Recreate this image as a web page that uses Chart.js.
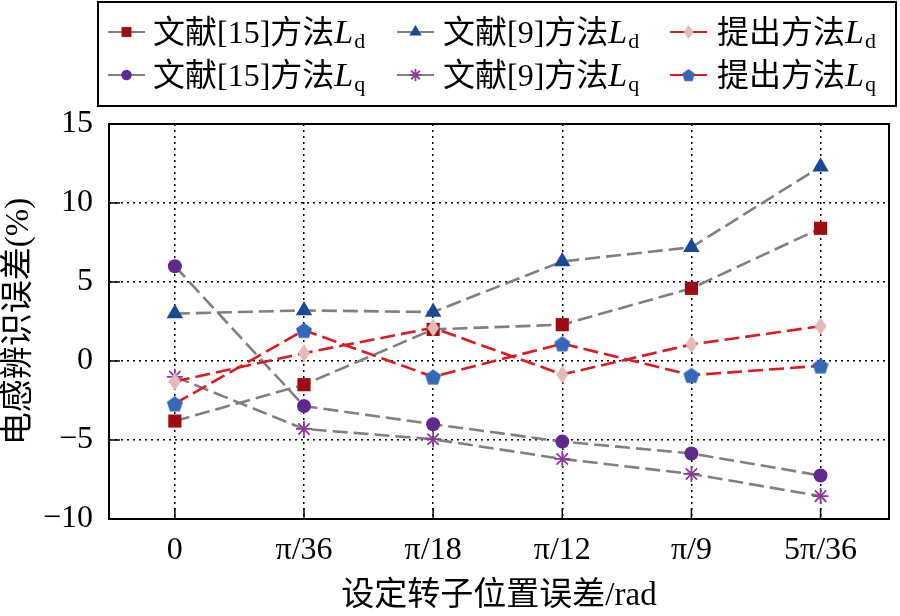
<!DOCTYPE html>
<html lang="zh">
<head>
<meta charset="UTF-8" />
<title>电感辨识误差</title>
<script src="https://cdn.jsdelivr.net/npm/chart.js"></script>
<style>
  body { margin: 0; background: #fff; }
  #wrap { width: 900px; height: 616px; position: relative; }
</style>
</head>
<body>
<div id="wrap"><canvas id="chart"></canvas></div>
<script>
// categories on the x axis (set rotor position error)
const categories = ["0", "π/36", "π/18", "π/12", "π/9", "5π/36"];
const yTicks = [-10, -5, 0, 5, 10, 15];

// inductance identification error (%)
const ref15Ld = [-3.8, -1.5, 2.0, 2.3, 4.6, 8.4];
const ref9Ld = [3.0, 3.2, 3.1, 6.3, 7.2, 12.3];
const propLd = [-1.3, 0.5, 2.1, -0.85, 1.05, 2.2];
const ref15Lq = [6.0, -2.85, -4.0, -5.1, -5.85, -7.25];
const ref9Lq = [-1.0, -4.3, -4.95, -6.2, -7.15, -8.55];
const propLq = [-2.7, 1.95, -1.0, 1.1, -0.9, -0.3];

const seriesNames = ["文献[15]方法", "文献[9]方法", "提出方法", "文献[15]方法", "文献[9]方法", "提出方法"];
const seriesSubs = ["d", "d", "d", "q", "q", "q"];

const GRAY = "#808080";
const RED = "#dc1a22";
const SERIF = '"Liberation Serif", "Noto Sans CJK SC", serif';

function shapeCanvas(w, h, color, kind) {
  const c = document.createElement("canvas");
  c.width = Math.ceil(w) + 2;
  c.height = Math.ceil(h) + 2;
  const g = c.getContext("2d");
  const cx = c.width / 2, cy = c.height / 2;
  g.fillStyle = color;
  g.beginPath();
  if (kind === "diamond") {
    g.moveTo(cx, cy - h / 2);
    g.lineTo(cx + w / 2, cy);
    g.lineTo(cx, cy + h / 2);
    g.lineTo(cx - w / 2, cy);
  } else {
    const r = w / 1.9;
    for (let i = 0; i < 5; i++) {
      const a = -Math.PI / 2 + i * 2 * Math.PI / 5;
      const x = cx + r * Math.cos(a), y = cy + r * Math.sin(a) + r * 0.1;
      if (i === 0) g.moveTo(x, y); else g.lineTo(x, y);
    }
  }
  g.closePath();
  g.fill();
  return c;
}

const diamondImg = shapeCanvas(12, 18, "#e3bab6", "diamond");
const pentagonImg = shapeCanvas(16, 16, "#3568b8", "pentagon");

function series(values) {
  return values.map((y, i) => ({ x: i, y: y }));
}

function lineSet(values, lineColor, markColor, style, radius, order) {
  return {
    data: series(values),
    borderColor: lineColor,
    borderWidth: 2.6,
    borderDash: [15, 6],
    tension: 0,
    fill: false,
    pointStyle: style,
    pointRadius: radius,
    pointHoverRadius: radius,
    pointBackgroundColor: markColor,
    pointBorderColor: markColor,
    pointBorderWidth: style === "star" ? 1.8 : 0,
    order: order,
  };
}

const datasets = [
  lineSet(ref15Ld, GRAY, "#9e0b10", "rect", 9.3, 3),
  lineSet(ref9Ld, GRAY, "#1a4898", "triangle", 9.5, 3),
  lineSet(propLd, RED, "#e3bab6", diamondImg, 9, 1),
  lineSet(ref15Lq, GRAY, "#5e2a8e", "circle", 7, 2),
  lineSet(ref9Lq, GRAY, "#8e3a9b", "star", 8, 2),
  lineSet(propLq, RED, "#3568b8", pentagonImg, 9, 0),
];

// plot frame and inward tick marks
const framePlugin = {
  id: "frame",
  afterDatasetsDraw(chart) {
    const { ctx, chartArea: a, scales } = chart;
    ctx.save();
    ctx.strokeStyle = "#000";
    ctx.lineWidth = 1.5;
    ctx.setLineDash([]);
    ctx.beginPath();
    categories.forEach((c, i) => {
      const x = scales.x.getPixelForValue(i);
      ctx.moveTo(x, a.bottom);
      ctx.lineTo(x, a.bottom - 11);
    });
    yTicks.forEach((v) => {
      const y = scales.y.getPixelForValue(v);
      ctx.moveTo(a.left, y);
      ctx.lineTo(a.left + 11, y);
    });
    ctx.stroke();
    ctx.lineWidth = 2;
    ctx.strokeRect(a.left, a.top, a.right - a.left, a.bottom - a.top);
    ctx.restore();
  },
};

// two-row legend with italic L and subscript
const legendPlugin = {
  id: "twoRowLegend",
  afterDraw(chart) {
    const ctx = chart.ctx;
    const lineX = [108, 397, 670];
    const textX = [153, 443, 717];
    const rowY = [32, 75];
    ctx.save();
    ctx.strokeStyle = "#000";
    ctx.lineWidth = 2;
    ctx.strokeRect(98, 2, 798, 104);
    chart.data.datasets.forEach((ds, i) => {
      const col = i % 3, row = Math.floor(i / 3);
      const y = rowY[row];
      const x0 = lineX[col];
      ctx.setLineDash([]);
      ctx.strokeStyle = ds.borderColor;
      ctx.lineWidth = 2;
      ctx.beginPath();
      ctx.moveTo(x0, y);
      ctx.lineTo(x0 + 37, y);
      ctx.stroke();
      const mx = x0 + 18.5;
      if (ds.pointStyle instanceof HTMLCanvasElement) {
        const img = ds.pointStyle;
        const s = 0.8;
        ctx.drawImage(img, mx - img.width * s / 2, y - img.height * s / 2, img.width * s, img.height * s);
      } else {
        ctx.fillStyle = ds.pointBackgroundColor;
        ctx.strokeStyle = ds.pointBorderColor;
        ctx.lineWidth = ds.pointBorderWidth || 0.01;
        Chart.helpers.drawPoint(ctx, {
          pointStyle: ds.pointStyle,
          radius: ds.pointRadius * 0.75,
          rotation: 0,
          borderWidth: ds.pointBorderWidth,
        }, mx, y);
      }
      let tx = textX[col];
      const base = y + 11;
      ctx.fillStyle = "#000";
      ctx.textBaseline = "alphabetic";
      ctx.textAlign = "left";
      ctx.font = "32px " + SERIF;
      ctx.fillText(seriesNames[i], tx, base);
      tx += ctx.measureText(seriesNames[i]).width;
      ctx.font = 'italic 34px "Liberation Serif", serif';
      ctx.fillText("L", tx, base);
      tx += ctx.measureText("L").width + 1;
      ctx.font = '22px "Liberation Serif", serif';
      ctx.fillText(seriesSubs[i], tx, base + 5);
    });
    ctx.restore();
  },
};

new Chart(document.getElementById("chart"), {
  type: "line",
  data: { datasets: datasets },
  options: {
    responsive: true,
    maintainAspectRatio: false,
    animation: false,
    events: [],
    layout: { padding: { top: 124, right: 11, left: 0, bottom: 0 } },
    plugins: {
      legend: { display: false },
      tooltip: { enabled: false },
    },
    scales: {
      x: {
        type: "linear",
        min: -0.51,
        max: 5.53,
        afterBuildTicks: (s) => { s.ticks = categories.map((c, i) => ({ value: i })); },
        afterFit: (s) => { s.height = 97; },
        grid: {
          drawTicks: false,
          color: "#000",
          lineWidth: 1.5,
        },
        border: { display: false, dash: [2, 4] },
        ticks: {
          padding: 12,
          color: "#000",
          font: { family: SERIF, size: 32 },
          callback: (v) => categories[v],
        },
        title: {
          display: true,
          text: "设定转子位置误差/rad",
          color: "#000",
          font: { family: SERIF, size: 33 },
          padding: 0,
        },
      },
      y: {
        min: -10,
        max: 15,
        afterBuildTicks: (s) => { s.ticks = yTicks.map((v) => ({ value: v })); },
        afterFit: (s) => { s.width = 109; },
        grid: {
          drawTicks: false,
          lineWidth: 1.5,
          color: (c) => (c.tick && (c.tick.value === 15 || c.tick.value === -10)) ? "rgba(0,0,0,0)" : "#000",
        },
        border: { display: false, dash: [2, 4] },
        ticks: {
          padding: 16,
          color: "#000",
          font: { family: SERIF, size: 32 },
          callback: (v) => (v < 0 ? "−" + Math.abs(v) : String(v)),
        },
        title: {
          display: true,
          text: "电感辨识误差(%)",
          color: "#000",
          font: { family: SERIF, size: 33 },
          padding: 0,
        },
      },
    },
  },
  plugins: [framePlugin, legendPlugin],
});
</script>
</body>
</html>
